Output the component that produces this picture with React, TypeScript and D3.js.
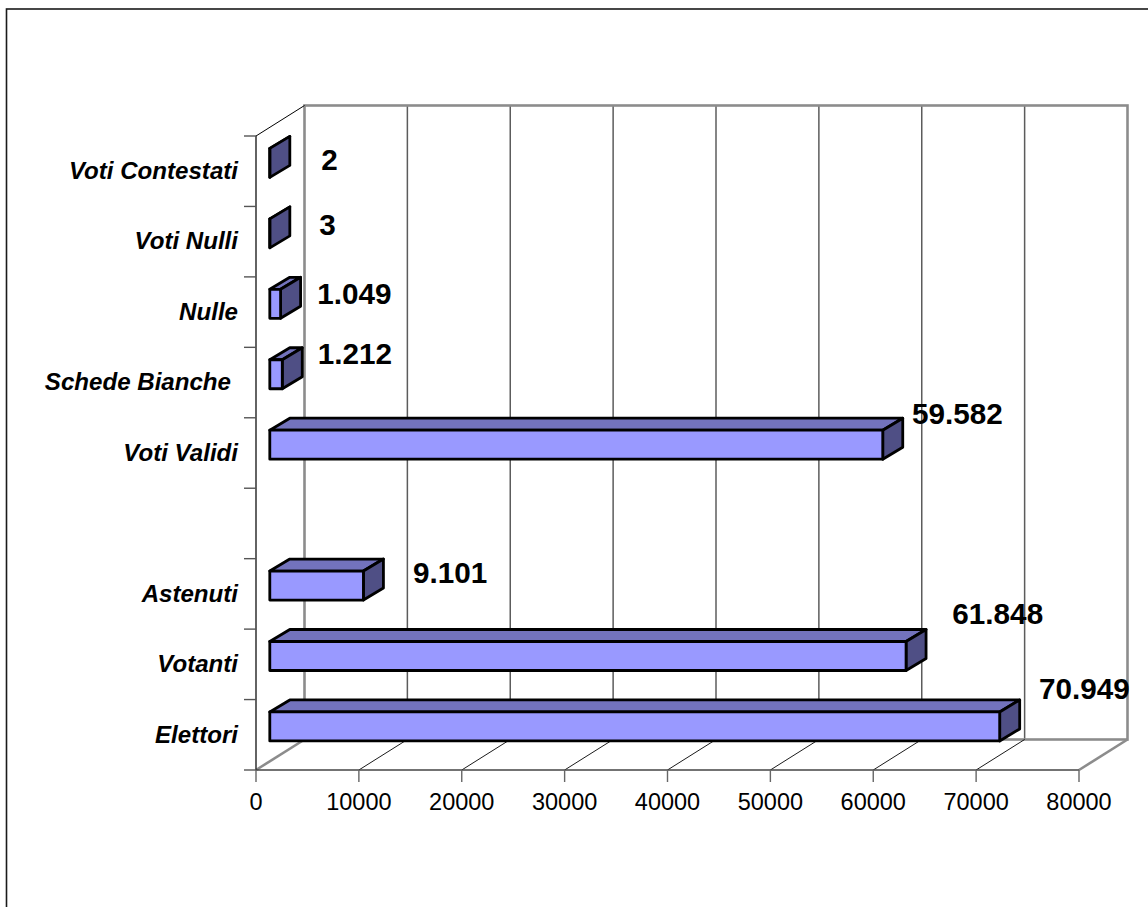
import React from "react";
import * as d3 from "d3";

const categories = ["Elettori", "Votanti", "Astenuti", "", "Voti Validi", "Schede Bianche", "Nulle", "Voti Nulli", "Voti Contestati"];
const values = [70949, 61848, 9101, null, 59582, 1212, 1049, 3, 2];
const valueLabels = ["70.949", "61.848", "9.101", "", "59.582", "1.212", "1.049", "3", "2"];
const xTicks = [0, 10000, 20000, 30000, 40000, 50000, 60000, 70000, 80000];
// label nudges from the end of each bar (layout)
const labelDx = [85, 92, 87, 0, 75, 73, 74, 58, 60];
const labelDy = [-13, -18, 12, 0, -6, 4, 15, 16, 22];
const labelEndTrim = [0, 0, 0, 0, 0, 7, 0, 0, 0];

const W = 1148, H = 907;
const x0 = 256, x1 = 1079, yBottom = 770, yTop = 136;
const depthX = 48.5, depthY = -30.5;
const barInset = 13.5, barDepthX = 20, barDepthY = -12;
const x = d3.scaleLinear().domain([0, 80000]).range([x0, x1]);
const y = d3.scaleBand<number>().domain(d3.range(categories.length)).range([yBottom, yTop]);
const barTopPad = 12.4, barH = 29;

const FONT = "'Liberation Sans', Arial, sans-serif";
const pts = (p: number[][]) => p.map((q) => q.join(",")).join(" ");
const WALL = "#8c8c8c";

export default function App() {
  const bw = y.bandwidth();
  return (
    <svg width={W} height={H} viewBox={`0 0 ${W} ${H}`} style={{ position: "absolute", left: 0, top: 0, background: "#fff" }}>
      {/* frame */}
      <rect x={6.5} y={9} width={W + 20} height={H + 20} fill="none" stroke="#1a1a1a" strokeWidth={1.6} />

      {/* back wall gridlines */}
      {xTicks.slice(1, -1).map((t) => (
        <line key={t} x1={x(t) + depthX} x2={x(t) + depthX} y1={yTop + depthY} y2={yBottom + depthY} stroke="#5c5c5c" strokeWidth={1.5} />
      ))}
      {/* back wall */}
      <rect x={x0 + depthX} y={yTop + depthY} width={x1 - x0} height={yBottom - yTop} fill="none" stroke={WALL} strokeWidth={2.6} />
      {/* floor gridlines */}
      {xTicks.slice(1, -1).map((t) => (
        <line key={t} x1={x(t)} y1={yBottom} x2={x(t) + depthX} y2={yBottom + depthY} stroke="#000" strokeWidth={0.9} />
      ))}
      <line x1={x0} y1={yBottom} x2={x0 + depthX} y2={yBottom + depthY} stroke={WALL} strokeWidth={2.6} />
      <line x1={x1} y1={yBottom} x2={x1 + depthX} y2={yBottom + depthY} stroke={WALL} strokeWidth={2.6} />
      <line x1={x0} y1={yTop} x2={x0 + depthX} y2={yTop + depthY} stroke="#000" strokeWidth={1} />

      {/* axes */}
      <line x1={x0} x2={x0} y1={yTop} y2={yBottom} stroke="#222" strokeWidth={1.4} />
      <line x1={x0} x2={x1} y1={yBottom} y2={yBottom} stroke="#444" strokeWidth={1.5} />
      {d3.range(categories.length + 1).map((i) => {
        const ty = yBottom - i * bw;
        return <line key={i} x1={x0 - 12} x2={x0} y1={ty} y2={ty} stroke="#555" strokeWidth={1.4} />;
      })}
      {xTicks.map((t) => (
        <g key={t}>
          <line x1={x(t)} x2={x(t)} y1={yBottom} y2={yBottom + 12} stroke="#666" strokeWidth={1.4} />
          <text x={x(t)} y={810} textAnchor="middle" fontFamily={FONT} fontSize={23.5} fill="#000">{t}</text>
        </g>
      ))}

      {/* bars */}
      {values.map((v, i) => {
        if (v === null) return null;
        const top = (y(i) as number) + barTopPad;
        const bot = top + barH;
        const l = x0 + barInset + 0.3;
        const r = l + (x(v) - x0);
        return (
          <g key={i} stroke="#000" strokeWidth={2.8} strokeLinejoin="round">
            <polygon points={pts([[l, top], [r, top], [r + barDepthX, top + barDepthY], [l + barDepthX, top + barDepthY]])} fill="#7373BD" />
            <polygon points={pts([[r, top], [r + barDepthX, top + barDepthY], [r + barDepthX, bot + barDepthY], [r, bot]])} fill="#4F4F85" />
            <rect x={l} y={top} width={r - l} height={barH} fill="#9999FF" />
          </g>
        );
      })}

      {/* category labels */}
      {categories.map((c, i) => (
        <text key={i} x={238 - labelEndTrim[i]} y={(y(i) as number) + 43} textAnchor="end" fontFamily={FONT} fontSize={24.1} fontWeight="bold" fontStyle="italic" fill="#000">{c}</text>
      ))}

      {/* value labels */}
      {values.map((v, i) => {
        if (v === null) return null;
        const r = x0 + barInset + (x(v) - x0);
        return (
          <text key={i} x={r + labelDx[i]} y={(y(i) as number) + barTopPad + labelDy[i]} textAnchor="middle" fontFamily={FONT} fontSize={29.7} fontWeight="bold" fill="#000">{valueLabels[i]}</text>
        );
      })}
    </svg>
  );
}
